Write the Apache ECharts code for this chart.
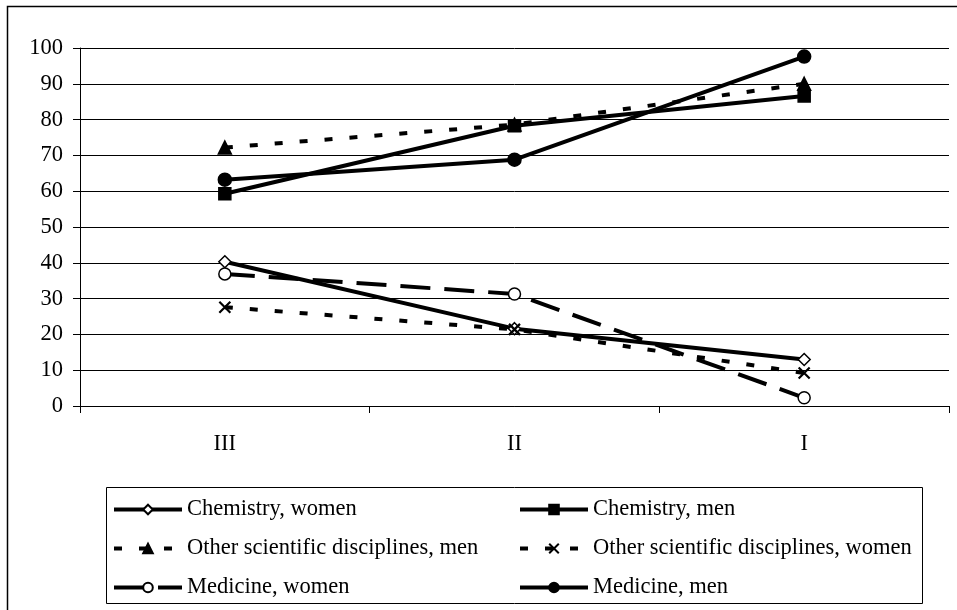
<!DOCTYPE html>
<html>
<head>
<meta charset="utf-8">
<script src="https://cdn.jsdelivr.net/npm/echarts@6/dist/echarts.min.js"></script>
<style>
html,body{margin:0;padding:0;background:#fff;}
#chart{width:957px;height:610px;}
</style>
</head>
<body>
<div id="chart"></div>
<script>
var categories = ['III', 'II', 'I'];
var chemistryWomen = [40.3, 21.6, 13.0];
var chemistryMen = [59.3, 78.3, 86.6];
var otherMen = [72.2, 78.6, 90.0];
var otherWomen = [27.6, 21.4, 9.2];
var medicineWomen = [36.9, 31.3, 2.3];
var medicineMen = [63.2, 68.8, 97.6];
var yTicks = [0, 10, 20, 30, 40, 50, 60, 70, 80, 90, 100];

var FONT = '"Liberation Serif", "Times New Roman", serif';
var FS = 22.5;
var chart = echarts.init(document.getElementById('chart'), null, {renderer: 'canvas'});

var xPath = 'path://M0,0L10,10M10,0L0,10';

function mk(name, data, symbol, size, fill, dash, width) {
  return {
    name: name,
    type: 'line',
    data: data,
    symbol: symbol,
    symbolSize: size,
    showAllSymbol: true,
    animation: false,
    lineStyle: {color: '#000', width: width || 4, type: dash || 'solid'},
    itemStyle: {color: fill, borderColor: '#000', borderWidth: (symbol === xPath ? 2.2 : 1.5)},
    emphasis: {disabled: true},
    z: 3
  };
}

function legendCol(left, names) {
  return {
    orient: 'vertical',
    left: left,
    top: 498,
    height: 200,
    padding: 0,
    itemWidth: 68,
    itemHeight: 12,
    itemGap: 16,
    lineStyle: {width: 4},
    textStyle: {color: '#000', fontFamily: FONT, fontSize: FS, lineHeight: 22},
    data: names,
    selectedMode: false
  };
}

var option = {
  animation: false,
  backgroundColor: '#fff',
  grid: {left: 80, right: 8, top: 48, bottom: 204, containLabel: false},
  xAxis: {
    type: 'category',
    data: categories,
    boundaryGap: true,
    axisLine: {lineStyle: {color: '#000', width: 1}},
    axisTick: {show: true, length: 7, lineStyle: {color: '#000'}},
    axisLabel: {color: '#000', fontFamily: FONT, fontSize: FS, margin: 27},
    splitLine: {show: false}
  },
  yAxis: {
    type: 'value',
    min: yTicks[0],
    max: yTicks[yTicks.length - 1],
    interval: 10,
    axisLine: {show: true, lineStyle: {color: '#000', width: 1}},
    axisTick: {show: true, length: 7, lineStyle: {color: '#000'}},
    axisLabel: {color: '#000', fontFamily: FONT, fontSize: FS, margin: 17},
    splitLine: {show: true, lineStyle: {color: '#000', width: 1}}
  },
  legend: [
    legendCol(112, ['Chemistry, women', 'Other scientific disciplines, men', 'Medicine, women']),
    legendCol(518, ['Chemistry, men', 'Other scientific disciplines, women', 'Medicine, men'])
  ],
  graphic: [
    {type: 'rect', shape: {x: 7.5, y: 6.5, width: 960, height: 620}, style: {fill: 'none', stroke: '#000', lineWidth: 1.5}, silent: true, z: 0},
    {type: 'rect', shape: {x: 106.5, y: 487.5, width: 816, height: 116}, style: {fill: 'none', stroke: '#000', lineWidth: 1}, silent: true, z: 0}
  ],
  series: [
    mk('Chemistry, women', chemistryWomen, 'diamond', 12, '#fff', 'solid'),
    mk('Chemistry, men', chemistryMen, 'rect', 12, '#000', 'solid'),
    mk('Other scientific disciplines, men', otherMen, 'triangle', 13, '#000', [8, 17], 4),
    mk('Other scientific disciplines, women', otherWomen, xPath, 11, '#000', [8, 17], 4),
    mk('Medicine, women', medicineWomen, 'circle', 12, '#fff', [30, 14], 4),
    mk('Medicine, men', medicineMen, 'circle', 13, '#000', 'solid')
  ]
};
chart.setOption(option);
</script>
</body>
</html>
